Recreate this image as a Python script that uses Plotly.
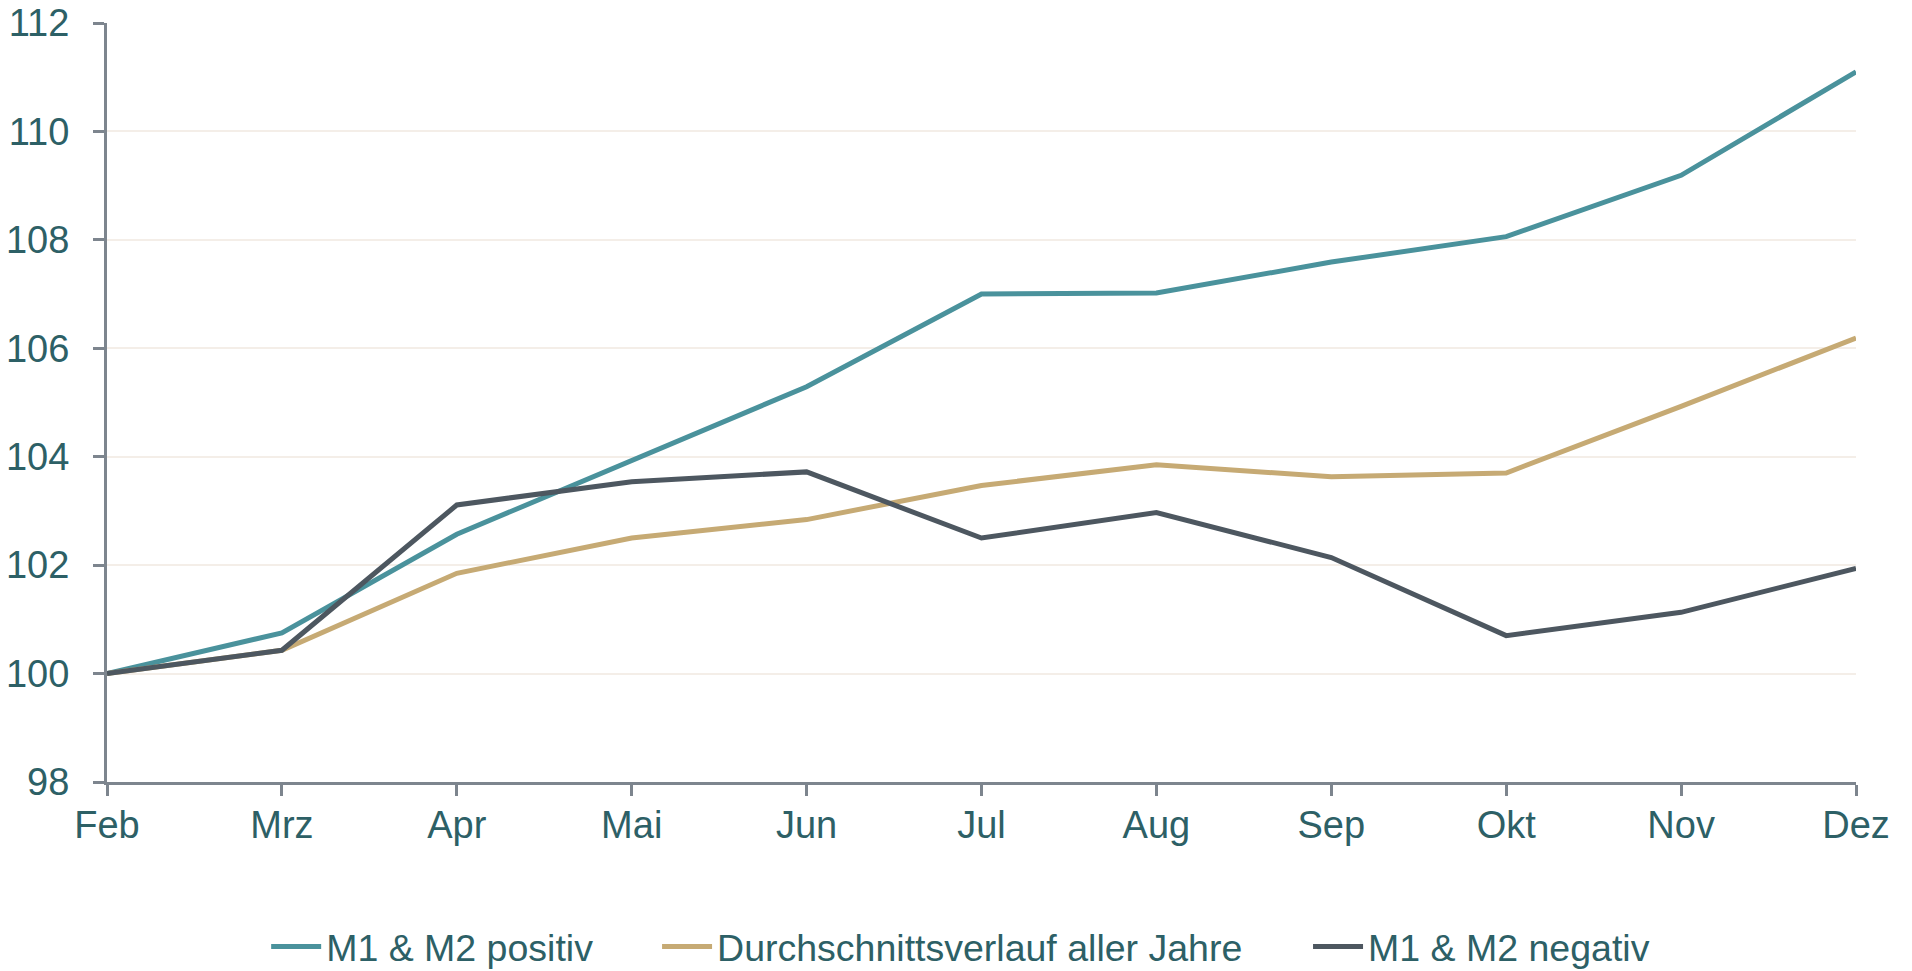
import plotly.graph_objects as go

months = ["Feb", "Mrz", "Apr", "Mai", "Jun", "Jul", "Aug", "Sep", "Okt", "Nov", "Dez"]
positiv = [100.0, 100.75, 102.57, 103.94, 105.29, 107.0, 107.02, 107.59, 108.06, 109.19, 111.1]
durchschnitt = [100.0, 100.43, 101.85, 102.5, 102.84, 103.47, 103.85, 103.63, 103.7, 104.93, 106.19]
negativ = [100.0, 100.43, 103.11, 103.54, 103.72, 102.5, 102.97, 102.14, 100.7, 101.13, 101.94]
y_ticks = [98, 100, 102, 104, 106, 108, 110, 112]

names = ["M1 & M2 positiv", "Durchschnittsverlauf aller Jahre", "M1 & M2 negativ"]
colors = ["#4a929c", "#c6aa74", "#4d5760"]
legend_ids = ["legend", "legend2", "legend3"]
legend_x = [0.091, 0.3145, 0.6867]
text_color = "#2d6066"
axis_color = "#7d858e"

fig = go.Figure()
for name, vals, col, lg in zip(names, [positiv, durchschnitt, negativ], colors, legend_ids):
    fig.add_trace(go.Scatter(x=list(range(len(months))), y=vals, mode="lines", name=name,
                             line=dict(color=col, width=5), legend=lg))

legend_common = dict(orientation="h", xanchor="left", y=-0.217, yanchor="middle",
                     itemwidth=50,
                     font=dict(size=37.5, color=text_color), bgcolor="rgba(0,0,0,0)")
fig.update_layout(
    width=1912, height=971,
    paper_bgcolor="white", plot_bgcolor="white",
    margin=dict(l=107, r=56, t=23, b=189, autoexpand=False),
    font=dict(family="Liberation Sans, Arial, sans-serif", size=38, color=text_color),
    showlegend=True,
    legend=dict(x=legend_x[0], **legend_common),
    legend2=dict(x=legend_x[1], **legend_common),
    legend3=dict(x=legend_x[2], **legend_common),
)
fig.update_xaxes(
    tickmode="array", tickvals=list(range(len(months))), ticktext=months,
    range=[0, len(months) - 1], showgrid=False, zeroline=False, tickangle=0,
    showline=True, linecolor=axis_color, linewidth=3,
    ticks="outside", ticklen=11, tickwidth=3, tickcolor=axis_color,
    ticklabelstandoff=-4,
)
fig.update_yaxes(
    tickmode="array", tickvals=y_ticks, range=[98, 112],
    showgrid=True, gridcolor="#f4eee8", gridwidth=2, zeroline=False,
    showline=True, linecolor=axis_color, linewidth=3,
    ticks="outside", ticklen=11, tickwidth=3, tickcolor=axis_color,
    ticklabelstandoff=16,
)
fig.write_html("out.html", config={"displayModeBar": False},
               post_script="document.body.style.margin='0';document.body.style.overflow='hidden';")
